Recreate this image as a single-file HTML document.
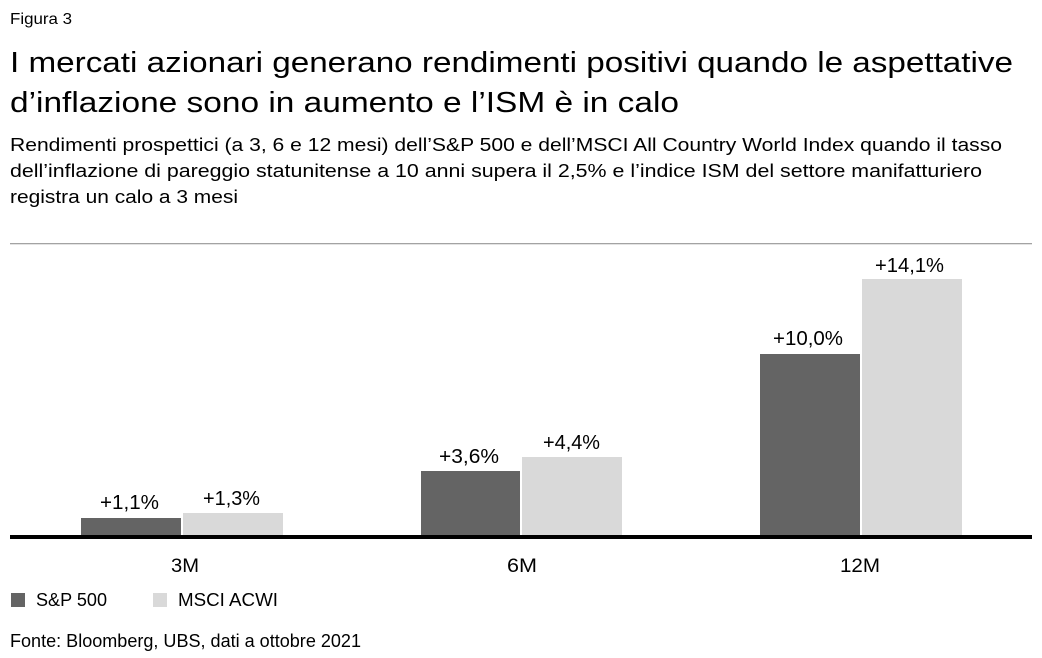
<!DOCTYPE html>
<html><head><meta charset="utf-8"><style>
html,body{margin:0;padding:0;background:#fff;}
svg{display:block;}
text{font-family:"Liberation Sans",sans-serif;fill:#000;}
</style></head><body>
<svg width="1042" height="658" viewBox="0 0 1042 658" xmlns="http://www.w3.org/2000/svg">
<text x="10" y="24" font-size="16" textLength="62" lengthAdjust="spacingAndGlyphs">Figura 3</text>
<text x="10" y="72" font-size="29" textLength="1003" lengthAdjust="spacingAndGlyphs">I mercati azionari generano rendimenti positivi quando le aspettative</text>
<text x="10" y="112" font-size="29" textLength="669" lengthAdjust="spacingAndGlyphs">d’inflazione sono in aumento e l’ISM è in calo</text>
<text x="10" y="151" font-size="18.5" textLength="992" lengthAdjust="spacingAndGlyphs">Rendimenti prospettici (a 3, 6 e 12 mesi) dell’S&amp;P 500 e dell’MSCI All Country World Index quando il tasso</text>
<text x="10" y="177" font-size="18.5" textLength="972" lengthAdjust="spacingAndGlyphs">dell’inflazione di pareggio statunitense a 10 anni supera il 2,5% e l’indice ISM del settore manifatturiero</text>
<text x="10" y="203" font-size="18.5" textLength="228" lengthAdjust="spacingAndGlyphs">registra un calo a 3 mesi</text>
<rect x="10" y="243" width="1022" height="1.3" fill="#a3a3a3"/>
<!-- bars -->
<rect x="81" y="518" width="100" height="17" fill="#646464"/>
<rect x="183" y="513" width="100" height="22" fill="#d9d9d9"/>
<rect x="421" y="471" width="99" height="64" fill="#646464"/>
<rect x="522" y="457" width="100" height="78" fill="#d9d9d9"/>
<rect x="760" y="354" width="100" height="181" fill="#646464"/>
<rect x="862" y="279" width="100" height="256" fill="#d9d9d9"/>
<rect x="10" y="535" width="1022" height="4" fill="#000"/>
<!-- labels -->
<text x="100" y="509" font-size="20" textLength="59" lengthAdjust="spacingAndGlyphs">+1,1%</text>
<text x="203" y="505" font-size="20" textLength="57" lengthAdjust="spacingAndGlyphs">+1,3%</text>
<text x="439" y="463" font-size="20" textLength="60" lengthAdjust="spacingAndGlyphs">+3,6%</text>
<text x="543" y="449" font-size="20" textLength="57" lengthAdjust="spacingAndGlyphs">+4,4%</text>
<text x="773" y="345" font-size="20" textLength="70" lengthAdjust="spacingAndGlyphs">+10,0%</text>
<text x="875" y="272" font-size="20" textLength="69" lengthAdjust="spacingAndGlyphs">+14,1%</text>
<text x="171" y="572" font-size="19" textLength="28" lengthAdjust="spacingAndGlyphs">3M</text>
<text x="507" y="572" font-size="19" textLength="30" lengthAdjust="spacingAndGlyphs">6M</text>
<text x="840" y="572" font-size="19" textLength="40" lengthAdjust="spacingAndGlyphs">12M</text>
<!-- legend -->
<rect x="11" y="593" width="14" height="14" fill="#646464"/>
<text x="36" y="606" font-size="18.5" textLength="71" lengthAdjust="spacingAndGlyphs">S&amp;P 500</text>
<rect x="153" y="593" width="14" height="14" fill="#d9d9d9"/>
<text x="178" y="606" font-size="18.5" textLength="100" lengthAdjust="spacingAndGlyphs">MSCI ACWI</text>
<text x="10" y="647" font-size="18" textLength="351" lengthAdjust="spacingAndGlyphs">Fonte: Bloomberg, UBS, dati a ottobre 2021</text>
</svg>
</body></html>
